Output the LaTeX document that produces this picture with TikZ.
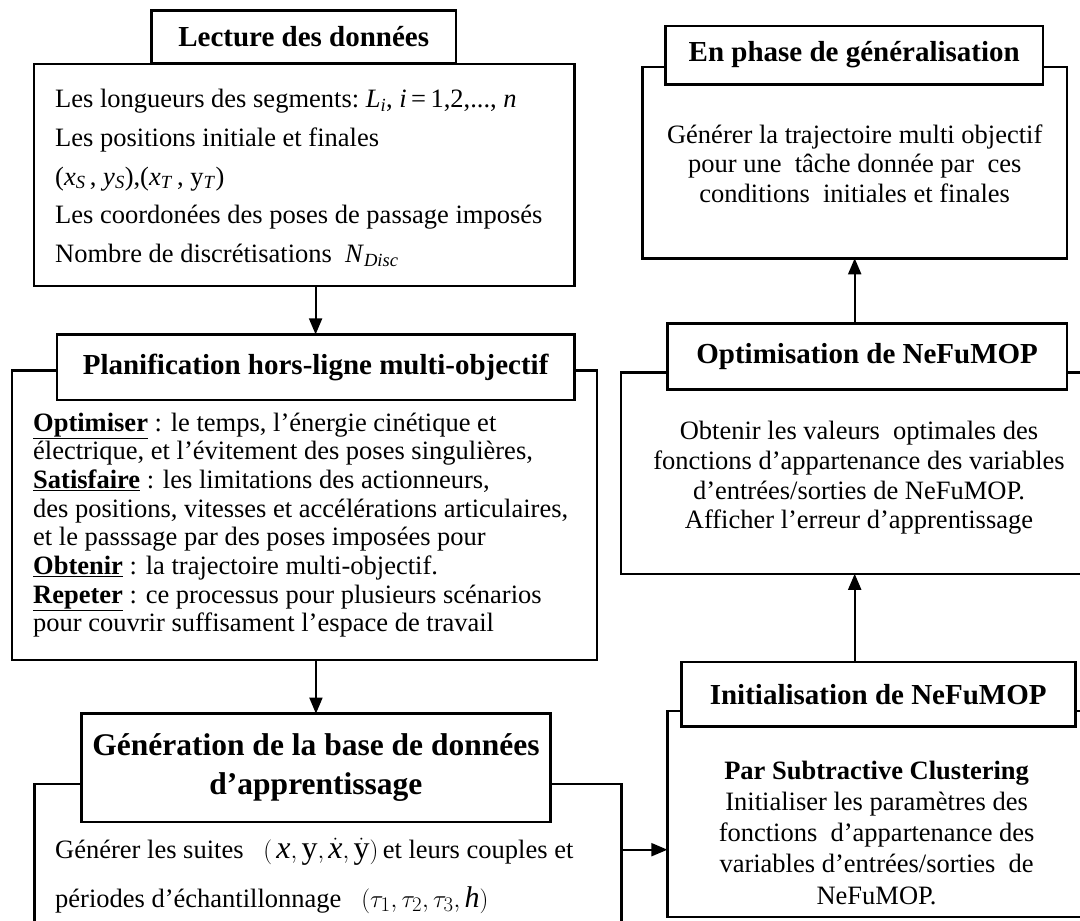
\documentclass[tikz,border=0pt]{standalone}
\usepackage{fontspec}
\setmainfont{Liberation Serif}
\usetikzlibrary{arrows.meta}

\begin{document}
\begin{tikzpicture}[x=1pt,y=-1pt,
  box/.style={draw, line width=2.4pt, fill=white, inner sep=0pt, outer sep=0pt, anchor=north west},
  titlebox/.style={draw, line width=2.6pt, fill=white, inner sep=0pt, outer sep=0pt,
    anchor=north west, align=center, font=\fontsize{29}{38}\selectfont\bfseries},
  bodyL/.style={anchor=base west, inner sep=0pt, font=\fontsize{26.5}{30}\selectfont},
  bodyC/.style={anchor=base, inner sep=0pt, font=\fontsize{26.5}{30}\selectfont},
  arr/.style={line width=2pt, -{Triangle[length=16pt,width=13pt]}}]

\useasboundingbox (0,0) rectangle (1080,921);
\clip (0,0) rectangle (1080,921);
\fill[white] (0,0) rectangle (1080,921);

% ---------- left column ----------
% reading of the input data
\node[box, minimum width=540.7pt, minimum height=222.1pt] (lecM) at (33.7,63.7) {};
\node[titlebox, minimum width=304.5pt, minimum height=53.4pt] (lecT) at (151.5,10.3) {Lecture des données};
\foreach \t [count=\i] in {
  {Les longueurs des segments:\ \textit{L}\textsubscript{\textit{i}}, \textit{i}\,=\,1,2,{.}{.}{.}, \textit{n}},
  {Les positions initiale et finales},
  {(\textit{x}\textsubscript{\textit{S}}\,, \textit{y}\textsubscript{\textit{S}}),(\textit{x}\textsubscript{\textit{T}}\,, y\textsubscript{\textit{T}})},
  {Les coordonées des poses de passage imposés},
  {Nombre de discrétisations\ \ \textit{N}\textsubscript{\textit{Disc}}}}
  \node[bodyL] (lec\i) at (55,{107.4+38.8*(\i-1)}) {\t};

% offline multi-objective planning
\node[box, minimum width=584.8pt, minimum height=289.4pt] (plM) at (12,370.6) {};
\node[titlebox, minimum width=517.6pt, minimum height=65.5pt] (plT) at (56.8,334.4) {Planification hors-ligne multi-objectif};
\foreach \t [count=\i] in {
  {\underline{\textbf{Optimiser}} : le temps, l’énergie cinétique et},
  {électrique, et l’évitement des poses singulières,},
  {\underline{\textbf{Satisfaire}} : les limitations des actionneurs,},
  {des positions, vitesses et accélérations articulaires,},
  {et le passsage par des poses imposées pour},
  {\underline{\textbf{Obtenir}} : la trajectoire multi-objectif.},
  {\underline{\textbf{Repeter}} : ce processus pour plusieurs scénarios},
  {pour couvrir suffisament l’espace de travail}}
  \node[bodyL] (pl\i) at (33,{431+28.7*(\i-1)}) {\t};

% training database
\node[box, minimum width=587.2pt, minimum height=200pt] (genM) at (34.4,784.2) {};
\node[titlebox, minimum width=468.7pt, minimum height=108.4pt,
      font=\fontsize{31.5}{39}\selectfont\bfseries] (genT) at (81.6,713.6)
  {Génération de la base de données\\d’apprentissage};
\node[bodyL] (gen1) at (55,858) {Générer les suites\ \ \ {\fontsize{32}{32}\selectfont$(\,\mathit{x}, \mathrm{y}, \dot{\mathit{x}}, \dot{\mathrm{y}})$}\,et leurs couples et};
\node[bodyL] (gen2) at (55,907) {périodes d’échantillonnage\ \ \ {\fontsize{30}{30}\selectfont$(\tau_1, \tau_2, \tau_3, \mathit{h})$}};

% ---------- right column ----------
% generalisation phase
\node[box, minimum width=424.3pt, minimum height=191.2pt] (gnM) at (642.6,67.1) {};
\node[titlebox, minimum width=377.1pt, minimum height=58.6pt] (gnT) at (665.7,25.8) {En phase de généralisation};
\foreach \t [count=\i] in {
  {Générer la trajectoire multi objectif},
  {pour une\ \ tâche donnée par\ \ ces},
  {conditions\ \ initiales et finales}}
  \node[bodyC] (gn\i) at (854.7,{143+29.5*(\i-1)}) {\t};

% NeFuMOP optimisation
\node[box, minimum width=500pt, minimum height=201.5pt] (optM) at (620.9,372.3) {};
\node[titlebox, minimum width=399.5pt, minimum height=66.1pt] (optT) at (667.4,323.4) {Optimisation de NeFuMOP};
\foreach \t [count=\i] in {
  {Obtenir les valeurs\ \ optimales des},
  {fonctions d’appartenance des variables},
  {d’entrées/sorties de NeFuMOP.},
  {Afficher l’erreur d’apprentissage}}
  \node[bodyC] (opt\i) at (859,{439.5+29.8*(\i-1)}) {\t};

% NeFuMOP initialisation
\node[box, minimum width=450pt, minimum height=206pt] (initM) at (667.4,710.9) {};
\node[titlebox, minimum width=394pt, minimum height=64.7pt] (initT) at (681.2,662) {Initialisation de NeFuMOP};
\foreach \t [count=\i] in {
  {\textbf{Par Subtractive Clustering}},
  {Initialiser les paramètres des},
  {fonctions\ \ d’appartenance des},
  {variables d’entrées/sorties\ \ de},
  {NeFuMOP.}}
  \node[bodyC] (init\i) at (876.6,{779+31.3*(\i-1)}) {\t};

% ---------- connectors ----------
\coordinate (colR) at (854.7,0);
\coordinate (rowA) at (0,849.7);
\draw[arr] (lecM.south -| plT.north) -- (plT.north);
\draw[arr] (plM.south -| genT.north) -- (genT.north);
\draw[arr] (genM.east |- rowA) -- (initM.west |- rowA);
\draw[arr] (initT.north -| colR) -- (optM.south -| colR);
\draw[arr] (optT.north -| colR) -- (gnM.south -| colR);
\end{tikzpicture}
\end{document}
